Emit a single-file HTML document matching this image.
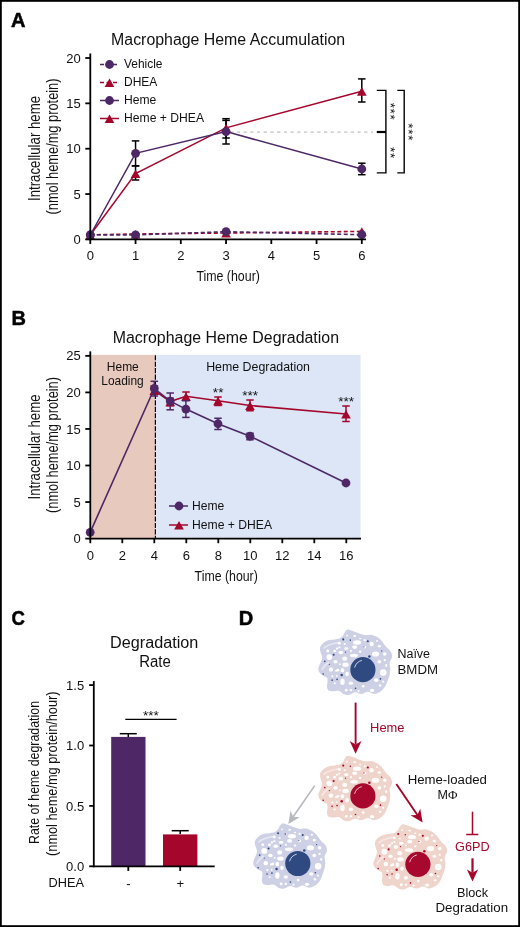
<!DOCTYPE html>
<html lang="en"><head><meta charset="utf-8"><title>Macrophage heme figure</title>
<style>
html,body{margin:0;padding:0;background:#fff}
svg{display:block;will-change:transform}
text{font-family:"Liberation Sans",sans-serif}
</style></head><body>
<svg width="520" height="927" viewBox="0 0 520 927">
<rect x="0" y="0" width="520" height="927" fill="#fff"/>
<g id="panelA">
<text x="11" y="26.8" font-size="20" fill="#000" font-weight="bold" stroke="#000" stroke-width="0.5">A</text>
<text x="111.1" y="45" font-size="15.8" fill="#111" textLength="234" lengthAdjust="spacingAndGlyphs">Macrophage Heme Accumulation</text>
<line x1="230.20" y1="132.10" x2="373.00" y2="132.10" stroke="#c2c2c2" stroke-width="1.2" stroke-dasharray="3.2 3.5"/>
<polyline points="90.30,234.80 135.55,234.00 226.05,233.00 361.80,231.40" fill="none" stroke="#a5062c" stroke-width="1.6" stroke-dasharray="4 2.5"/>
<polygon points="90.30,230.71 95.15,239.41 85.45,239.41" fill="#a5062c"/>
<polygon points="135.55,229.91 140.40,238.61 130.70,238.61" fill="#a5062c"/>
<polygon points="226.05,228.91 230.90,237.61 221.20,237.61" fill="#a5062c"/>
<polygon points="361.80,227.31 366.65,236.01 356.95,236.01" fill="#a5062c"/>
<polyline points="90.30,234.80 135.55,234.90 226.05,231.70 361.80,234.70" fill="none" stroke="#4e2766" stroke-width="1.6" stroke-dasharray="4 2.5"/>
<circle cx="90.30" cy="234.80" r="4.4" fill="#4e2766"/>
<circle cx="135.55" cy="234.90" r="4.4" fill="#4e2766"/>
<circle cx="226.05" cy="231.70" r="4.4" fill="#4e2766"/>
<circle cx="361.80" cy="234.70" r="4.4" fill="#4e2766"/>
<line x1="135.55" y1="166.00" x2="135.55" y2="180.00" stroke="#000" stroke-width="1.5"/>
<line x1="131.80" y1="166.00" x2="139.30" y2="166.00" stroke="#000" stroke-width="1.5"/>
<line x1="131.80" y1="180.00" x2="139.30" y2="180.00" stroke="#000" stroke-width="1.5"/>
<line x1="226.05" y1="120.40" x2="226.05" y2="138.00" stroke="#000" stroke-width="1.5"/>
<line x1="222.30" y1="120.40" x2="229.80" y2="120.40" stroke="#000" stroke-width="1.5"/>
<line x1="222.30" y1="138.00" x2="229.80" y2="138.00" stroke="#000" stroke-width="1.5"/>
<line x1="361.80" y1="78.90" x2="361.80" y2="102.00" stroke="#000" stroke-width="1.5"/>
<line x1="358.05" y1="78.90" x2="365.55" y2="78.90" stroke="#000" stroke-width="1.5"/>
<line x1="358.05" y1="102.00" x2="365.55" y2="102.00" stroke="#000" stroke-width="1.5"/>
<line x1="135.55" y1="140.90" x2="135.55" y2="165.70" stroke="#000" stroke-width="1.5"/>
<line x1="131.80" y1="140.90" x2="139.30" y2="140.90" stroke="#000" stroke-width="1.5"/>
<line x1="131.80" y1="165.70" x2="139.30" y2="165.70" stroke="#000" stroke-width="1.5"/>
<line x1="226.05" y1="118.70" x2="226.05" y2="144.00" stroke="#000" stroke-width="1.5"/>
<line x1="222.30" y1="118.70" x2="229.80" y2="118.70" stroke="#000" stroke-width="1.5"/>
<line x1="222.30" y1="144.00" x2="229.80" y2="144.00" stroke="#000" stroke-width="1.5"/>
<line x1="361.80" y1="163.20" x2="361.80" y2="174.70" stroke="#000" stroke-width="1.5"/>
<line x1="358.05" y1="163.20" x2="365.55" y2="163.20" stroke="#000" stroke-width="1.5"/>
<line x1="358.05" y1="174.70" x2="365.55" y2="174.70" stroke="#000" stroke-width="1.5"/>
<polyline points="90.30,235.00 135.55,173.50 226.05,127.90 361.80,91.20" fill="none" stroke="#a5062c" stroke-width="1.5"/>
<polyline points="90.30,235.00 135.55,153.30 226.05,131.60 361.80,169.00" fill="none" stroke="#4e2766" stroke-width="1.5"/>
<polygon points="135.55,169.41 140.40,178.11 130.70,178.11" fill="#a5062c"/>
<polygon points="226.05,123.81 230.90,132.51 221.20,132.51" fill="#a5062c"/>
<polygon points="361.80,87.11 366.65,95.81 356.95,95.81" fill="#a5062c"/>
<circle cx="90.30" cy="235.00" r="4.4" fill="#4e2766"/>
<circle cx="135.55" cy="153.30" r="4.4" fill="#4e2766"/>
<circle cx="226.05" cy="131.60" r="4.4" fill="#4e2766"/>
<circle cx="361.80" cy="169.00" r="4.4" fill="#4e2766"/>
<line x1="90.30" y1="53.50" x2="90.30" y2="240.30" stroke="#000" stroke-width="1.8"/>
<line x1="89.40" y1="239.40" x2="366.00" y2="239.40" stroke="#000" stroke-width="1.8"/>
<line x1="85.30" y1="239.40" x2="90.30" y2="239.40" stroke="#000" stroke-width="1.8"/>
<text x="80.8" y="244.0" font-size="13" fill="#111" text-anchor="end">0</text>
<line x1="85.30" y1="194.05" x2="90.30" y2="194.05" stroke="#000" stroke-width="1.8"/>
<text x="80.8" y="198.65" font-size="13" fill="#111" text-anchor="end">5</text>
<line x1="85.30" y1="148.70" x2="90.30" y2="148.70" stroke="#000" stroke-width="1.8"/>
<text x="80.8" y="153.29999999999998" font-size="13" fill="#111" text-anchor="end">10</text>
<line x1="85.30" y1="103.35" x2="90.30" y2="103.35" stroke="#000" stroke-width="1.8"/>
<text x="80.8" y="107.94999999999999" font-size="13" fill="#111" text-anchor="end">15</text>
<line x1="85.30" y1="58.00" x2="90.30" y2="58.00" stroke="#000" stroke-width="1.8"/>
<text x="80.8" y="62.6" font-size="13" fill="#111" text-anchor="end">20</text>
<line x1="90.30" y1="239.40" x2="90.30" y2="244.00" stroke="#000" stroke-width="1.8"/>
<text x="90.3" y="259.8" font-size="13" fill="#111" text-anchor="middle">0</text>
<line x1="135.55" y1="239.40" x2="135.55" y2="244.00" stroke="#000" stroke-width="1.8"/>
<text x="135.55" y="259.8" font-size="13" fill="#111" text-anchor="middle">1</text>
<line x1="180.80" y1="239.40" x2="180.80" y2="244.00" stroke="#000" stroke-width="1.8"/>
<text x="180.8" y="259.8" font-size="13" fill="#111" text-anchor="middle">2</text>
<line x1="226.05" y1="239.40" x2="226.05" y2="244.00" stroke="#000" stroke-width="1.8"/>
<text x="226.05" y="259.8" font-size="13" fill="#111" text-anchor="middle">3</text>
<line x1="271.30" y1="239.40" x2="271.30" y2="244.00" stroke="#000" stroke-width="1.8"/>
<text x="271.3" y="259.8" font-size="13" fill="#111" text-anchor="middle">4</text>
<line x1="316.55" y1="239.40" x2="316.55" y2="244.00" stroke="#000" stroke-width="1.8"/>
<text x="316.55" y="259.8" font-size="13" fill="#111" text-anchor="middle">5</text>
<line x1="361.80" y1="239.40" x2="361.80" y2="244.00" stroke="#000" stroke-width="1.8"/>
<text x="361.8" y="259.8" font-size="13" fill="#111" text-anchor="middle">6</text>
<text x="196.4" y="281.1" font-size="15" fill="#111" textLength="63.5" lengthAdjust="spacingAndGlyphs">Time (hour)</text>
<text x="39.5" y="148.5" font-size="15.6" fill="#111" text-anchor="middle" textLength="105" lengthAdjust="spacingAndGlyphs" transform="rotate(-90 39.5 148.5)">Intracellular heme</text>
<text x="57.5" y="146.5" font-size="15.6" fill="#111" text-anchor="middle" textLength="136" lengthAdjust="spacingAndGlyphs" transform="rotate(-90 57.5 146.5)">(nmol heme/mg protein)</text>
<line x1="100.00" y1="64.50" x2="119.00" y2="64.50" stroke="#4e2766" stroke-width="1.5" stroke-dasharray="4 2.5"/>
<circle cx="109.50" cy="64.50" r="4.4" fill="#4e2766"/>
<text x="124" y="68.4" font-size="12.4" fill="#111" textLength="38.5" lengthAdjust="spacingAndGlyphs">Vehicle</text>
<line x1="100.00" y1="82.50" x2="119.00" y2="82.50" stroke="#a5062c" stroke-width="1.5" stroke-dasharray="4 2.5"/>
<polygon points="109.50,78.41 114.35,87.11 104.65,87.11" fill="#a5062c"/>
<text x="124" y="86.4" font-size="12.4" fill="#111" textLength="33.4" lengthAdjust="spacingAndGlyphs">DHEA</text>
<line x1="100.00" y1="100.50" x2="119.00" y2="100.50" stroke="#4e2766" stroke-width="1.5"/>
<circle cx="109.50" cy="100.50" r="4.4" fill="#4e2766"/>
<text x="124" y="104.4" font-size="12.4" fill="#111" textLength="32.3" lengthAdjust="spacingAndGlyphs">Heme</text>
<line x1="100.00" y1="118.50" x2="119.00" y2="118.50" stroke="#a5062c" stroke-width="1.5"/>
<polygon points="109.50,114.41 114.35,123.11 104.65,123.11" fill="#a5062c"/>
<text x="124" y="122.4" font-size="12.4" fill="#111" textLength="80" lengthAdjust="spacingAndGlyphs">Heme + DHEA</text>
<polyline points="376.8,90.4 385.9,90.4 385.9,172.9 376.8,172.9" fill="none" stroke="#000" stroke-width="1.4"/>
<polyline points="397.3,90.4 404.2,90.4 404.2,172.9 397.3,172.9" fill="none" stroke="#000" stroke-width="1.4"/>
<line x1="376.80" y1="132.00" x2="386.00" y2="132.00" stroke="#000" stroke-width="2.2"/>
<text x="392.9" y="118.39999999999999" font-size="13.6" letter-spacing="0.6" text-anchor="middle" fill="#111" transform="rotate(90 392.7 111.3)">***</text>
<text x="392.9" y="159.9" font-size="13.6" letter-spacing="0.6" text-anchor="middle" fill="#111" transform="rotate(90 392.7 152.8)">**</text>
<text x="411.2" y="139.1" font-size="13.6" letter-spacing="0.6" text-anchor="middle" fill="#111" transform="rotate(90 411 132)">***</text>
</g>
<g id="panelB">
<text x="11.6" y="325.1" font-size="20" fill="#000" font-weight="bold" stroke="#000" stroke-width="0.5">B</text>
<text x="112.7" y="343" font-size="15.8" fill="#111" textLength="226.3" lengthAdjust="spacingAndGlyphs">Macrophage Heme Degradation</text>
<rect x="90.7" y="354.9" width="64.3" height="183.70000000000005" fill="#e8c9be"/>
<rect x="155" y="354.9" width="205.5" height="183.70000000000005" fill="#dce6f6"/>
<line x1="155.40" y1="355.20" x2="155.40" y2="538.60" stroke="#000" stroke-width="1.2" stroke-dasharray="5.1 1.35"/>
<text x="122.8" y="370.8" font-size="12.4" fill="#111" text-anchor="middle" textLength="32" lengthAdjust="spacingAndGlyphs">Heme</text>
<text x="122.5" y="385" font-size="12.4" fill="#111" text-anchor="middle" textLength="42.5" lengthAdjust="spacingAndGlyphs">Loading</text>
<text x="258.1" y="370.6" font-size="12.4" fill="#111" text-anchor="middle" textLength="103.8" lengthAdjust="spacingAndGlyphs">Heme Degradation</text>
<line x1="154.30" y1="386.00" x2="154.30" y2="394.00" stroke="#a5062c" stroke-width="1.5"/>
<line x1="150.55" y1="386.00" x2="158.05" y2="386.00" stroke="#a5062c" stroke-width="1.5"/>
<line x1="150.55" y1="394.00" x2="158.05" y2="394.00" stroke="#a5062c" stroke-width="1.5"/>
<line x1="170.20" y1="398.20" x2="170.20" y2="405.80" stroke="#a5062c" stroke-width="1.5"/>
<line x1="166.45" y1="398.20" x2="173.95" y2="398.20" stroke="#a5062c" stroke-width="1.5"/>
<line x1="166.45" y1="405.80" x2="173.95" y2="405.80" stroke="#a5062c" stroke-width="1.5"/>
<line x1="186.00" y1="392.00" x2="186.00" y2="400.00" stroke="#a5062c" stroke-width="1.5"/>
<line x1="182.25" y1="392.00" x2="189.75" y2="392.00" stroke="#a5062c" stroke-width="1.5"/>
<line x1="182.25" y1="400.00" x2="189.75" y2="400.00" stroke="#a5062c" stroke-width="1.5"/>
<line x1="218.00" y1="397.00" x2="218.00" y2="405.50" stroke="#a5062c" stroke-width="1.5"/>
<line x1="214.25" y1="397.00" x2="221.75" y2="397.00" stroke="#a5062c" stroke-width="1.5"/>
<line x1="214.25" y1="405.50" x2="221.75" y2="405.50" stroke="#a5062c" stroke-width="1.5"/>
<line x1="250.00" y1="400.00" x2="250.00" y2="410.75" stroke="#a5062c" stroke-width="1.5"/>
<line x1="246.25" y1="400.00" x2="253.75" y2="400.00" stroke="#a5062c" stroke-width="1.5"/>
<line x1="246.25" y1="410.75" x2="253.75" y2="410.75" stroke="#a5062c" stroke-width="1.5"/>
<line x1="346.00" y1="406.00" x2="346.00" y2="421.50" stroke="#a5062c" stroke-width="1.5"/>
<line x1="342.25" y1="406.00" x2="349.75" y2="406.00" stroke="#a5062c" stroke-width="1.5"/>
<line x1="342.25" y1="421.50" x2="349.75" y2="421.50" stroke="#a5062c" stroke-width="1.5"/>
<polyline points="154.30,390.30 170.20,401.60 186.00,396.30 218.00,400.75 250.00,405.50 346.00,414.00" fill="none" stroke="#a5062c" stroke-width="1.6"/>
<polygon points="154.30,386.21 159.15,394.91 149.45,394.91" fill="#a5062c"/>
<polygon points="170.20,397.51 175.05,406.21 165.35,406.21" fill="#a5062c"/>
<polygon points="186.00,392.21 190.85,400.91 181.15,400.91" fill="#a5062c"/>
<polygon points="218.00,396.66 222.85,405.36 213.15,405.36" fill="#a5062c"/>
<polygon points="250.00,401.41 254.85,410.11 245.15,410.11" fill="#a5062c"/>
<polygon points="346.00,409.91 350.85,418.61 341.15,418.61" fill="#a5062c"/>
<line x1="154.30" y1="381.30" x2="154.30" y2="396.00" stroke="#4e2766" stroke-width="1.5"/>
<line x1="150.55" y1="381.30" x2="158.05" y2="381.30" stroke="#4e2766" stroke-width="1.5"/>
<line x1="150.55" y1="396.00" x2="158.05" y2="396.00" stroke="#4e2766" stroke-width="1.5"/>
<line x1="170.20" y1="393.00" x2="170.20" y2="409.80" stroke="#4e2766" stroke-width="1.5"/>
<line x1="166.45" y1="393.00" x2="173.95" y2="393.00" stroke="#4e2766" stroke-width="1.5"/>
<line x1="166.45" y1="409.80" x2="173.95" y2="409.80" stroke="#4e2766" stroke-width="1.5"/>
<line x1="185.90" y1="400.75" x2="185.90" y2="417.40" stroke="#4e2766" stroke-width="1.5"/>
<line x1="182.15" y1="400.75" x2="189.65" y2="400.75" stroke="#4e2766" stroke-width="1.5"/>
<line x1="182.15" y1="417.40" x2="189.65" y2="417.40" stroke="#4e2766" stroke-width="1.5"/>
<line x1="218.00" y1="418.25" x2="218.00" y2="429.50" stroke="#4e2766" stroke-width="1.5"/>
<line x1="214.25" y1="418.25" x2="221.75" y2="418.25" stroke="#4e2766" stroke-width="1.5"/>
<line x1="214.25" y1="429.50" x2="221.75" y2="429.50" stroke="#4e2766" stroke-width="1.5"/>
<line x1="250.00" y1="433.25" x2="250.00" y2="439.75" stroke="#4e2766" stroke-width="1.5"/>
<line x1="246.25" y1="433.25" x2="253.75" y2="433.25" stroke="#4e2766" stroke-width="1.5"/>
<line x1="246.25" y1="439.75" x2="253.75" y2="439.75" stroke="#4e2766" stroke-width="1.5"/>
<polyline points="90.20,532.30 154.30,388.40 170.20,401.10 185.90,409.10 218.00,423.75 250.00,436.25 346.00,483.00" fill="none" stroke="#4e2766" stroke-width="1.6"/>
<circle cx="90.20" cy="532.30" r="4.4" fill="#4e2766"/>
<circle cx="154.30" cy="388.40" r="4.4" fill="#4e2766"/>
<circle cx="170.20" cy="401.10" r="4.4" fill="#4e2766"/>
<circle cx="185.90" cy="409.10" r="4.4" fill="#4e2766"/>
<circle cx="218.00" cy="423.75" r="4.4" fill="#4e2766"/>
<circle cx="250.00" cy="436.25" r="4.4" fill="#4e2766"/>
<circle cx="346.00" cy="483.00" r="4.4" fill="#4e2766"/>
<text x="218.2" y="396.6" font-size="13.6" letter-spacing="0.05" text-anchor="middle" fill="#111">**</text>
<text x="250.2" y="400.40000000000003" font-size="13.6" letter-spacing="0.05" text-anchor="middle" fill="#111">***</text>
<text x="346.2" y="406.1" font-size="13.6" letter-spacing="0.05" text-anchor="middle" fill="#111">***</text>
<line x1="90.30" y1="351.35" x2="90.30" y2="539.50" stroke="#000" stroke-width="1.8"/>
<line x1="89.40" y1="538.60" x2="361.00" y2="538.60" stroke="#000" stroke-width="1.8"/>
<line x1="85.30" y1="538.60" x2="90.30" y2="538.60" stroke="#000" stroke-width="1.8"/>
<text x="80.8" y="543.2" font-size="13" fill="#111" text-anchor="end">0</text>
<line x1="85.30" y1="502.05" x2="90.30" y2="502.05" stroke="#000" stroke-width="1.8"/>
<text x="80.8" y="506.65000000000003" font-size="13" fill="#111" text-anchor="end">5</text>
<line x1="85.30" y1="465.50" x2="90.30" y2="465.50" stroke="#000" stroke-width="1.8"/>
<text x="80.8" y="470.1" font-size="13" fill="#111" text-anchor="end">10</text>
<line x1="85.30" y1="428.95" x2="90.30" y2="428.95" stroke="#000" stroke-width="1.8"/>
<text x="80.8" y="433.55000000000007" font-size="13" fill="#111" text-anchor="end">15</text>
<line x1="85.30" y1="392.40" x2="90.30" y2="392.40" stroke="#000" stroke-width="1.8"/>
<text x="80.8" y="397.00000000000006" font-size="13" fill="#111" text-anchor="end">20</text>
<line x1="85.30" y1="355.85" x2="90.30" y2="355.85" stroke="#000" stroke-width="1.8"/>
<text x="80.8" y="360.45000000000005" font-size="13" fill="#111" text-anchor="end">25</text>
<line x1="90.30" y1="538.60" x2="90.30" y2="543.20" stroke="#000" stroke-width="1.8"/>
<text x="90.3" y="559.6" font-size="13" fill="#111" text-anchor="middle">0</text>
<line x1="122.30" y1="538.60" x2="122.30" y2="543.20" stroke="#000" stroke-width="1.8"/>
<text x="122.3" y="559.6" font-size="13" fill="#111" text-anchor="middle">2</text>
<line x1="154.30" y1="538.60" x2="154.30" y2="543.20" stroke="#000" stroke-width="1.8"/>
<text x="154.3" y="559.6" font-size="13" fill="#111" text-anchor="middle">4</text>
<line x1="186.30" y1="538.60" x2="186.30" y2="543.20" stroke="#000" stroke-width="1.8"/>
<text x="186.3" y="559.6" font-size="13" fill="#111" text-anchor="middle">6</text>
<line x1="218.30" y1="538.60" x2="218.30" y2="543.20" stroke="#000" stroke-width="1.8"/>
<text x="218.3" y="559.6" font-size="13" fill="#111" text-anchor="middle">8</text>
<line x1="250.30" y1="538.60" x2="250.30" y2="543.20" stroke="#000" stroke-width="1.8"/>
<text x="250.3" y="559.6" font-size="13" fill="#111" text-anchor="middle">10</text>
<line x1="282.30" y1="538.60" x2="282.30" y2="543.20" stroke="#000" stroke-width="1.8"/>
<text x="282.3" y="559.6" font-size="13" fill="#111" text-anchor="middle">12</text>
<line x1="314.30" y1="538.60" x2="314.30" y2="543.20" stroke="#000" stroke-width="1.8"/>
<text x="314.3" y="559.6" font-size="13" fill="#111" text-anchor="middle">14</text>
<line x1="346.30" y1="538.60" x2="346.30" y2="543.20" stroke="#000" stroke-width="1.8"/>
<text x="346.3" y="559.6" font-size="13" fill="#111" text-anchor="middle">16</text>
<text x="194.6" y="580.5" font-size="15" fill="#111" textLength="63.2" lengthAdjust="spacingAndGlyphs">Time (hour)</text>
<text x="39.5" y="447" font-size="15.6" fill="#111" text-anchor="middle" textLength="105" lengthAdjust="spacingAndGlyphs" transform="rotate(-90 39.5 447)">Intracellular heme</text>
<text x="57.5" y="445" font-size="15.6" fill="#111" text-anchor="middle" textLength="136" lengthAdjust="spacingAndGlyphs" transform="rotate(-90 57.5 445)">(nmol heme/mg protein)</text>
<line x1="169.00" y1="506.00" x2="188.00" y2="506.00" stroke="#4e2766" stroke-width="1.5"/>
<circle cx="179.00" cy="506.00" r="4.4" fill="#4e2766"/>
<text x="192" y="509.9" font-size="12.4" fill="#111" textLength="32.3" lengthAdjust="spacingAndGlyphs">Heme</text>
<line x1="169.00" y1="525.00" x2="188.00" y2="525.00" stroke="#a5062c" stroke-width="1.5"/>
<polygon points="179.00,520.91 183.85,529.61 174.15,529.61" fill="#a5062c"/>
<text x="192" y="528.9" font-size="12.4" fill="#111" textLength="80" lengthAdjust="spacingAndGlyphs">Heme + DHEA</text>
</g>
<g id="panelC">
<text x="11.6" y="625" font-size="20" fill="#000" textLength="13.4" lengthAdjust="spacingAndGlyphs" font-weight="bold" stroke="#000" stroke-width="0.5">C</text>
<text x="238.8" y="625" font-size="20" fill="#000" font-weight="bold" stroke="#000" stroke-width="0.5">D</text>
<text x="154.2" y="647.5" font-size="15.8" fill="#111" text-anchor="middle" textLength="88.3" lengthAdjust="spacingAndGlyphs">Degradation</text>
<text x="155" y="666.5" font-size="15.8" fill="#111" text-anchor="middle" textLength="31.6" lengthAdjust="spacingAndGlyphs">Rate</text>
<rect x="111.2" y="736.9" width="34.3" height="129.39999999999998" fill="#4e2766"/>
<rect x="163" y="834.4" width="34.4" height="31.899999999999977" fill="#a5062c"/>
<line x1="128.30" y1="733.70" x2="128.30" y2="737.00" stroke="#000" stroke-width="1.5"/>
<line x1="119.80" y1="733.70" x2="136.80" y2="733.70" stroke="#000" stroke-width="1.5"/>
<line x1="180.20" y1="830.70" x2="180.20" y2="834.00" stroke="#000" stroke-width="1.5"/>
<line x1="171.70" y1="830.70" x2="188.70" y2="830.70" stroke="#000" stroke-width="1.5"/>
<line x1="125.30" y1="719.30" x2="176.60" y2="719.30" stroke="#000" stroke-width="1.3"/>
<text x="150.89999999999998" y="720.1" font-size="13.6" letter-spacing="0.05" text-anchor="middle" fill="#111">***</text>
<line x1="93.80" y1="681.10" x2="93.80" y2="867.20" stroke="#000" stroke-width="1.8"/>
<line x1="92.90" y1="866.30" x2="214.70" y2="866.30" stroke="#000" stroke-width="1.8"/>
<line x1="89.20" y1="866.30" x2="93.80" y2="866.30" stroke="#000" stroke-width="1.8"/>
<text x="84.2" y="870.9" font-size="13" fill="#111" text-anchor="end">0.0</text>
<line x1="89.20" y1="805.90" x2="93.80" y2="805.90" stroke="#000" stroke-width="1.8"/>
<text x="84.2" y="810.5" font-size="13" fill="#111" text-anchor="end">0.5</text>
<line x1="89.20" y1="745.50" x2="93.80" y2="745.50" stroke="#000" stroke-width="1.8"/>
<text x="84.2" y="750.1" font-size="13" fill="#111" text-anchor="end">1.0</text>
<line x1="89.20" y1="685.10" x2="93.80" y2="685.10" stroke="#000" stroke-width="1.8"/>
<text x="84.2" y="689.6999999999999" font-size="13" fill="#111" text-anchor="end">1.5</text>
<line x1="128.30" y1="866.30" x2="128.30" y2="870.90" stroke="#000" stroke-width="1.8"/>
<line x1="180.20" y1="866.30" x2="180.20" y2="870.90" stroke="#000" stroke-width="1.8"/>
<text x="128.3" y="888" font-size="13" fill="#111" text-anchor="middle">-</text>
<text x="180.2" y="888" font-size="13" fill="#111" text-anchor="middle">+</text>
<text x="48.5" y="887" font-size="13" fill="#111" textLength="35.5" lengthAdjust="spacingAndGlyphs">DHEA</text>
<text x="39.3" y="772.5" font-size="15.2" fill="#111" text-anchor="middle" textLength="143" lengthAdjust="spacingAndGlyphs" transform="rotate(-90 39.3 772.5)">Rate of heme degradation</text>
<text x="57.3" y="773.7" font-size="15.2" fill="#111" text-anchor="middle" textLength="164.5" lengthAdjust="spacingAndGlyphs" transform="rotate(-90 57.3 773.7)">(nmol heme/mg protein/hour)</text>
</g>
<g id="panelD">
<g transform="translate(362.9,669.7)">
<path d="M-15.20,-40.10C-13.92,-40.32 -12.22,-39.40 -10.40,-38.80C-8.58,-38.20 -6.35,-37.20 -4.30,-36.50C-2.25,-35.80 -0.15,-34.87 1.90,-34.60C3.95,-34.33 5.95,-35.23 8.00,-34.90C10.05,-34.57 12.40,-33.62 14.20,-32.60C16.00,-31.58 17.27,-30.47 18.80,-28.80C20.33,-27.13 21.87,-24.40 23.40,-22.60C24.93,-20.80 27.05,-19.67 28.00,-18.00C28.95,-16.33 29.30,-14.40 29.10,-12.60C28.90,-10.80 27.08,-9.12 26.80,-7.20C26.52,-5.28 27.40,-3.15 27.40,-1.10C27.40,0.95 27.27,3.05 26.80,5.10C26.33,7.15 25.42,9.15 24.60,11.20C23.78,13.25 23.12,15.60 21.90,17.40C20.68,19.20 19.10,20.85 17.30,22.00C15.50,23.15 13.17,24.28 11.10,24.30C9.03,24.32 6.95,22.10 4.90,22.10C2.85,22.10 0.90,24.23 -1.20,24.30C-3.30,24.37 -5.65,22.37 -7.70,22.50C-9.75,22.63 -11.73,24.72 -13.50,25.10C-15.27,25.48 -17.05,25.15 -18.30,24.80C-19.55,24.45 -19.98,23.62 -21.00,23.00C-22.02,22.38 -22.95,21.33 -24.40,21.10C-25.85,20.87 -28.02,21.68 -29.70,21.60C-31.38,21.52 -33.47,21.40 -34.50,20.60C-35.53,19.80 -35.75,18.23 -35.90,16.80C-36.05,15.37 -35.40,13.45 -35.40,12.00C-35.40,10.55 -35.25,9.07 -35.90,8.10C-36.55,7.13 -38.10,7.00 -39.30,6.20C-40.50,5.40 -42.22,4.42 -43.10,3.30C-43.98,2.18 -44.52,0.78 -44.60,-0.50C-44.68,-1.78 -44.08,-3.03 -43.60,-4.40C-43.12,-5.77 -42.18,-7.35 -41.70,-8.70C-41.22,-10.05 -40.62,-11.13 -40.70,-12.50C-40.78,-13.87 -41.83,-15.30 -42.20,-16.90C-42.57,-18.50 -43.30,-20.50 -42.90,-22.10C-42.50,-23.70 -41.20,-25.28 -39.80,-26.50C-38.40,-27.72 -36.35,-28.77 -34.50,-29.40C-32.65,-30.03 -30.55,-29.98 -28.70,-30.30C-26.85,-30.62 -24.83,-30.73 -23.40,-31.30C-21.97,-31.87 -20.98,-32.67 -20.10,-33.70C-19.22,-34.73 -18.92,-36.43 -18.10,-37.50C-17.28,-38.57 -16.48,-39.88 -15.20,-40.10Z" fill="#ced1e6"/>
<path d="M-38.77,-21.69 Q-35.08,-25.38 -24.92,-26.92" fill="none" stroke="#e6e8f3" stroke-width="1.7" stroke-linecap="round"/>
<path d="M-40.77,-0.46 Q-39.38,-3.85 -34.46,-7.23" fill="none" stroke="#e6e8f3" stroke-width="1.7" stroke-linecap="round"/>
<ellipse cx="-8.15" cy="-33.69" rx="1.45" ry="0.91" fill="#fff"/>
<ellipse cx="-15.85" cy="-34.15" rx="0.91" ry="0.91" fill="#fff"/>
<ellipse cx="-5.85" cy="-27.23" rx="3.99" ry="2.18" fill="#fff"/>
<ellipse cx="8.77" cy="-25.69" rx="2.18" ry="2.18" fill="#fff"/>
<ellipse cx="1.85" cy="-29.54" rx="1.09" ry="1.09" fill="#fff"/>
<ellipse cx="16.46" cy="-23.38" rx="1.63" ry="1.27" fill="#fff"/>
<ellipse cx="12.62" cy="-15.69" rx="3.63" ry="2.54" fill="#fff"/>
<ellipse cx="21.85" cy="-15.69" rx="1.82" ry="1.82" fill="#fff"/>
<ellipse cx="1.85" cy="-22.62" rx="1.45" ry="1.45" fill="#fff"/>
<ellipse cx="-8.15" cy="-22.62" rx="2.54" ry="1.82" fill="#fff"/>
<ellipse cx="-8.92" cy="-14.15" rx="3.99" ry="1.82" fill="#fff"/>
<ellipse cx="-16.62" cy="-21.08" rx="2.18" ry="1.45" fill="#fff"/>
<ellipse cx="-12.00" cy="-18.77" rx="1.09" ry="1.09" fill="#fff"/>
<ellipse cx="-22.00" cy="-17.23" rx="2.36" ry="1.82" fill="#fff"/>
<ellipse cx="-33.54" cy="-12.62" rx="2.90" ry="2.90" fill="#fff"/>
<ellipse cx="-27.38" cy="-8.00" rx="2.18" ry="1.82" fill="#fff"/>
<ellipse cx="-18.15" cy="-11.08" rx="2.54" ry="2.18" fill="#fff"/>
<ellipse cx="-17.38" cy="-4.92" rx="3.27" ry="2.18" fill="#fff"/>
<ellipse cx="-32.00" cy="-0.31" rx="2.18" ry="2.18" fill="#fff"/>
<ellipse cx="-25.08" cy="0.46" rx="1.45" ry="1.45" fill="#fff"/>
<ellipse cx="-20.46" cy="0.46" rx="1.82" ry="2.18" fill="#fff"/>
<ellipse cx="-15.85" cy="4.31" rx="1.82" ry="2.18" fill="#fff"/>
<ellipse cx="-20.46" cy="12.00" rx="2.18" ry="3.27" fill="#fff"/>
<ellipse cx="-12.00" cy="13.54" rx="2.18" ry="1.82" fill="#fff"/>
<ellipse cx="-16.62" cy="20.46" rx="1.45" ry="1.45" fill="#fff"/>
<ellipse cx="20.31" cy="2.77" rx="3.27" ry="3.27" fill="#fff"/>
<ellipse cx="16.46" cy="-8.00" rx="1.82" ry="1.82" fill="#fff"/>
<ellipse cx="13.38" cy="10.46" rx="2.18" ry="1.82" fill="#fff"/>
<ellipse cx="9.23" cy="20.77" rx="2.18" ry="1.63" fill="#fff"/>
<ellipse cx="0.31" cy="16.62" rx="1.27" ry="1.27" fill="#fff"/>
<ellipse cx="-35.08" cy="-18.77" rx="1.45" ry="1.45" fill="#fff"/>
<ellipse cx="-23.54" cy="-26.46" rx="1.45" ry="1.45" fill="#fff"/>
<ellipse cx="20.31" cy="12.00" rx="1.09" ry="1.09" fill="#fff"/>
<ellipse cx="21.85" cy="-9.54" rx="1.09" ry="1.09" fill="#fff"/>
<ellipse cx="-12.00" cy="-29.54" rx="0.91" ry="0.91" fill="#fff"/>
<ellipse cx="-25.85" cy="-21.08" rx="1.09" ry="1.09" fill="#fff"/>
<ellipse cx="-2.77" cy="-18.00" rx="1.27" ry="1.09" fill="#fff"/>
<ellipse cx="-28.31" cy="-18.77" rx="1.45" ry="1.27" fill="#fff"/>
<ellipse cx="-23.54" cy="-22.31" rx="1.09" ry="0.91" fill="#fff"/>
<ellipse cx="-23.08" cy="-5.54" rx="0.91" ry="0.91" fill="#fff"/>
<ellipse cx="-26.77" cy="1.08" rx="1.09" ry="1.09" fill="#fff"/>
<ellipse cx="-26.15" cy="6.15" rx="0.91" ry="0.91" fill="#fff"/>
<ellipse cx="-30.46" cy="6.62" rx="1.09" ry="1.09" fill="#fff"/>
<ellipse cx="-12.00" cy="20.46" rx="1.27" ry="1.09" fill="#fff"/>
<ellipse cx="-4.31" cy="21.23" rx="1.09" ry="0.91" fill="#fff"/>
<ellipse cx="17.23" cy="15.85" rx="1.27" ry="1.27" fill="#fff"/>
<ellipse cx="23.38" cy="-4.15" rx="1.09" ry="1.45" fill="#fff"/>
<ellipse cx="-18.15" cy="-25.69" rx="1.09" ry="0.91" fill="#fff"/>
<ellipse cx="-28.15" cy="13.54" rx="1.09" ry="0.91" fill="#fff"/>
<ellipse cx="14.15" cy="-28.77" rx="1.09" ry="0.91" fill="#fff"/>
<ellipse cx="-2.77" cy="-31.08" rx="1.09" ry="0.73" fill="#fff"/>
<circle cx="-19.69" cy="-30.31" r="1.04" fill="#2e4a80"/>
<circle cx="-12.46" cy="-29.54" r="0.83" fill="#2e4a80"/>
<circle cx="4.92" cy="-28.46" r="1.04" fill="#2e4a80"/>
<circle cx="1.08" cy="-22.92" r="0.62" fill="#2e4a80"/>
<circle cx="6.46" cy="-13.08" r="1.25" fill="#2e4a80"/>
<circle cx="-29.23" cy="-14.92" r="1.04" fill="#2e4a80"/>
<circle cx="-38.15" cy="-8.31" r="0.83" fill="#2e4a80"/>
<circle cx="-21.23" cy="5.38" r="1.25" fill="#2e4a80"/>
<circle cx="-25.85" cy="9.69" r="0.83" fill="#2e4a80"/>
<circle cx="-30.77" cy="10.46" r="0.83" fill="#2e4a80"/>
<circle cx="-39.69" cy="4.31" r="0.83" fill="#2e4a80"/>
<circle cx="-7.38" cy="18.62" r="0.83" fill="#2e4a80"/>
<circle cx="17.54" cy="9.23" r="0.83" fill="#2e4a80"/>
<circle cx="-17.38" cy="-17.69" r="0.62" fill="#2e4a80"/>
<circle cx="18.77" cy="-18.77" r="0.62" fill="#2e4a80"/>
<circle cx="-33.54" cy="-5.38" r="0.62" fill="#2e4a80"/>
<circle cx="0" cy="0" r="12.6" fill="#2e4a80"/>
<path d="M-8.2,-2.5 Q-6.5,-8 -1.5,-9.2" fill="none" stroke="#fff" stroke-opacity=".75" stroke-width="1" stroke-linecap="round"/>
</g>
<g transform="translate(362.9,795.9)">
<path d="M-15.20,-40.10C-13.92,-40.32 -12.22,-39.40 -10.40,-38.80C-8.58,-38.20 -6.35,-37.20 -4.30,-36.50C-2.25,-35.80 -0.15,-34.87 1.90,-34.60C3.95,-34.33 5.95,-35.23 8.00,-34.90C10.05,-34.57 12.40,-33.62 14.20,-32.60C16.00,-31.58 17.27,-30.47 18.80,-28.80C20.33,-27.13 21.87,-24.40 23.40,-22.60C24.93,-20.80 27.05,-19.67 28.00,-18.00C28.95,-16.33 29.30,-14.40 29.10,-12.60C28.90,-10.80 27.08,-9.12 26.80,-7.20C26.52,-5.28 27.40,-3.15 27.40,-1.10C27.40,0.95 27.27,3.05 26.80,5.10C26.33,7.15 25.42,9.15 24.60,11.20C23.78,13.25 23.12,15.60 21.90,17.40C20.68,19.20 19.10,20.85 17.30,22.00C15.50,23.15 13.17,24.28 11.10,24.30C9.03,24.32 6.95,22.10 4.90,22.10C2.85,22.10 0.90,24.23 -1.20,24.30C-3.30,24.37 -5.65,22.37 -7.70,22.50C-9.75,22.63 -11.73,24.72 -13.50,25.10C-15.27,25.48 -17.05,25.15 -18.30,24.80C-19.55,24.45 -19.98,23.62 -21.00,23.00C-22.02,22.38 -22.95,21.33 -24.40,21.10C-25.85,20.87 -28.02,21.68 -29.70,21.60C-31.38,21.52 -33.47,21.40 -34.50,20.60C-35.53,19.80 -35.75,18.23 -35.90,16.80C-36.05,15.37 -35.40,13.45 -35.40,12.00C-35.40,10.55 -35.25,9.07 -35.90,8.10C-36.55,7.13 -38.10,7.00 -39.30,6.20C-40.50,5.40 -42.22,4.42 -43.10,3.30C-43.98,2.18 -44.52,0.78 -44.60,-0.50C-44.68,-1.78 -44.08,-3.03 -43.60,-4.40C-43.12,-5.77 -42.18,-7.35 -41.70,-8.70C-41.22,-10.05 -40.62,-11.13 -40.70,-12.50C-40.78,-13.87 -41.83,-15.30 -42.20,-16.90C-42.57,-18.50 -43.30,-20.50 -42.90,-22.10C-42.50,-23.70 -41.20,-25.28 -39.80,-26.50C-38.40,-27.72 -36.35,-28.77 -34.50,-29.40C-32.65,-30.03 -30.55,-29.98 -28.70,-30.30C-26.85,-30.62 -24.83,-30.73 -23.40,-31.30C-21.97,-31.87 -20.98,-32.67 -20.10,-33.70C-19.22,-34.73 -18.92,-36.43 -18.10,-37.50C-17.28,-38.57 -16.48,-39.88 -15.20,-40.10Z" fill="#efd4cb"/>
<path d="M-38.77,-21.69 Q-35.08,-25.38 -24.92,-26.92" fill="none" stroke="#f7e8e3" stroke-width="1.7" stroke-linecap="round"/>
<path d="M-40.77,-0.46 Q-39.38,-3.85 -34.46,-7.23" fill="none" stroke="#f7e8e3" stroke-width="1.7" stroke-linecap="round"/>
<ellipse cx="-8.15" cy="-33.69" rx="1.45" ry="0.91" fill="#fff"/>
<ellipse cx="-15.85" cy="-34.15" rx="0.91" ry="0.91" fill="#fff"/>
<ellipse cx="-5.85" cy="-27.23" rx="3.99" ry="2.18" fill="#fff"/>
<ellipse cx="8.77" cy="-25.69" rx="2.18" ry="2.18" fill="#fff"/>
<ellipse cx="1.85" cy="-29.54" rx="1.09" ry="1.09" fill="#fff"/>
<ellipse cx="16.46" cy="-23.38" rx="1.63" ry="1.27" fill="#fff"/>
<ellipse cx="12.62" cy="-15.69" rx="3.63" ry="2.54" fill="#fff"/>
<ellipse cx="21.85" cy="-15.69" rx="1.82" ry="1.82" fill="#fff"/>
<ellipse cx="1.85" cy="-22.62" rx="1.45" ry="1.45" fill="#fff"/>
<ellipse cx="-8.15" cy="-22.62" rx="2.54" ry="1.82" fill="#fff"/>
<ellipse cx="-8.92" cy="-14.15" rx="3.99" ry="1.82" fill="#fff"/>
<ellipse cx="-16.62" cy="-21.08" rx="2.18" ry="1.45" fill="#fff"/>
<ellipse cx="-12.00" cy="-18.77" rx="1.09" ry="1.09" fill="#fff"/>
<ellipse cx="-22.00" cy="-17.23" rx="2.36" ry="1.82" fill="#fff"/>
<ellipse cx="-33.54" cy="-12.62" rx="2.90" ry="2.90" fill="#fff"/>
<ellipse cx="-27.38" cy="-8.00" rx="2.18" ry="1.82" fill="#fff"/>
<ellipse cx="-18.15" cy="-11.08" rx="2.54" ry="2.18" fill="#fff"/>
<ellipse cx="-17.38" cy="-4.92" rx="3.27" ry="2.18" fill="#fff"/>
<ellipse cx="-32.00" cy="-0.31" rx="2.18" ry="2.18" fill="#fff"/>
<ellipse cx="-25.08" cy="0.46" rx="1.45" ry="1.45" fill="#fff"/>
<ellipse cx="-20.46" cy="0.46" rx="1.82" ry="2.18" fill="#fff"/>
<ellipse cx="-15.85" cy="4.31" rx="1.82" ry="2.18" fill="#fff"/>
<ellipse cx="-20.46" cy="12.00" rx="2.18" ry="3.27" fill="#fff"/>
<ellipse cx="-12.00" cy="13.54" rx="2.18" ry="1.82" fill="#fff"/>
<ellipse cx="-16.62" cy="20.46" rx="1.45" ry="1.45" fill="#fff"/>
<ellipse cx="20.31" cy="2.77" rx="3.27" ry="3.27" fill="#fff"/>
<ellipse cx="16.46" cy="-8.00" rx="1.82" ry="1.82" fill="#fff"/>
<ellipse cx="13.38" cy="10.46" rx="2.18" ry="1.82" fill="#fff"/>
<ellipse cx="9.23" cy="20.77" rx="2.18" ry="1.63" fill="#fff"/>
<ellipse cx="0.31" cy="16.62" rx="1.27" ry="1.27" fill="#fff"/>
<ellipse cx="-35.08" cy="-18.77" rx="1.45" ry="1.45" fill="#fff"/>
<ellipse cx="-23.54" cy="-26.46" rx="1.45" ry="1.45" fill="#fff"/>
<ellipse cx="20.31" cy="12.00" rx="1.09" ry="1.09" fill="#fff"/>
<ellipse cx="21.85" cy="-9.54" rx="1.09" ry="1.09" fill="#fff"/>
<ellipse cx="-12.00" cy="-29.54" rx="0.91" ry="0.91" fill="#fff"/>
<ellipse cx="-25.85" cy="-21.08" rx="1.09" ry="1.09" fill="#fff"/>
<ellipse cx="-2.77" cy="-18.00" rx="1.27" ry="1.09" fill="#fff"/>
<ellipse cx="-28.31" cy="-18.77" rx="1.45" ry="1.27" fill="#fff"/>
<ellipse cx="-23.54" cy="-22.31" rx="1.09" ry="0.91" fill="#fff"/>
<ellipse cx="-23.08" cy="-5.54" rx="0.91" ry="0.91" fill="#fff"/>
<ellipse cx="-26.77" cy="1.08" rx="1.09" ry="1.09" fill="#fff"/>
<ellipse cx="-26.15" cy="6.15" rx="0.91" ry="0.91" fill="#fff"/>
<ellipse cx="-30.46" cy="6.62" rx="1.09" ry="1.09" fill="#fff"/>
<ellipse cx="-12.00" cy="20.46" rx="1.27" ry="1.09" fill="#fff"/>
<ellipse cx="-4.31" cy="21.23" rx="1.09" ry="0.91" fill="#fff"/>
<ellipse cx="17.23" cy="15.85" rx="1.27" ry="1.27" fill="#fff"/>
<ellipse cx="23.38" cy="-4.15" rx="1.09" ry="1.45" fill="#fff"/>
<ellipse cx="-18.15" cy="-25.69" rx="1.09" ry="0.91" fill="#fff"/>
<ellipse cx="-28.15" cy="13.54" rx="1.09" ry="0.91" fill="#fff"/>
<ellipse cx="14.15" cy="-28.77" rx="1.09" ry="0.91" fill="#fff"/>
<ellipse cx="-2.77" cy="-31.08" rx="1.09" ry="0.73" fill="#fff"/>
<circle cx="-19.69" cy="-30.31" r="1.04" fill="#a8082e"/>
<circle cx="-12.46" cy="-29.54" r="0.83" fill="#a8082e"/>
<circle cx="4.92" cy="-28.46" r="1.04" fill="#a8082e"/>
<circle cx="1.08" cy="-22.92" r="0.62" fill="#a8082e"/>
<circle cx="6.46" cy="-13.08" r="1.25" fill="#a8082e"/>
<circle cx="-29.23" cy="-14.92" r="1.04" fill="#a8082e"/>
<circle cx="-38.15" cy="-8.31" r="0.83" fill="#a8082e"/>
<circle cx="-21.23" cy="5.38" r="1.25" fill="#a8082e"/>
<circle cx="-25.85" cy="9.69" r="0.83" fill="#a8082e"/>
<circle cx="-30.77" cy="10.46" r="0.83" fill="#a8082e"/>
<circle cx="-39.69" cy="4.31" r="0.83" fill="#a8082e"/>
<circle cx="-7.38" cy="18.62" r="0.83" fill="#a8082e"/>
<circle cx="17.54" cy="9.23" r="0.83" fill="#a8082e"/>
<circle cx="-17.38" cy="-17.69" r="0.62" fill="#a8082e"/>
<circle cx="18.77" cy="-18.77" r="0.62" fill="#a8082e"/>
<circle cx="-33.54" cy="-5.38" r="0.62" fill="#a8082e"/>
<circle cx="0" cy="0" r="12.6" fill="#a8082e"/>
<path d="M-8.2,-2.5 Q-6.5,-8 -1.5,-9.2" fill="none" stroke="#fff" stroke-opacity=".75" stroke-width="1" stroke-linecap="round"/>
</g>
<g transform="translate(297.8,863.5)">
<path d="M-15.20,-40.10C-13.92,-40.32 -12.22,-39.40 -10.40,-38.80C-8.58,-38.20 -6.35,-37.20 -4.30,-36.50C-2.25,-35.80 -0.15,-34.87 1.90,-34.60C3.95,-34.33 5.95,-35.23 8.00,-34.90C10.05,-34.57 12.40,-33.62 14.20,-32.60C16.00,-31.58 17.27,-30.47 18.80,-28.80C20.33,-27.13 21.87,-24.40 23.40,-22.60C24.93,-20.80 27.05,-19.67 28.00,-18.00C28.95,-16.33 29.30,-14.40 29.10,-12.60C28.90,-10.80 27.08,-9.12 26.80,-7.20C26.52,-5.28 27.40,-3.15 27.40,-1.10C27.40,0.95 27.27,3.05 26.80,5.10C26.33,7.15 25.42,9.15 24.60,11.20C23.78,13.25 23.12,15.60 21.90,17.40C20.68,19.20 19.10,20.85 17.30,22.00C15.50,23.15 13.17,24.28 11.10,24.30C9.03,24.32 6.95,22.10 4.90,22.10C2.85,22.10 0.90,24.23 -1.20,24.30C-3.30,24.37 -5.65,22.37 -7.70,22.50C-9.75,22.63 -11.73,24.72 -13.50,25.10C-15.27,25.48 -17.05,25.15 -18.30,24.80C-19.55,24.45 -19.98,23.62 -21.00,23.00C-22.02,22.38 -22.95,21.33 -24.40,21.10C-25.85,20.87 -28.02,21.68 -29.70,21.60C-31.38,21.52 -33.47,21.40 -34.50,20.60C-35.53,19.80 -35.75,18.23 -35.90,16.80C-36.05,15.37 -35.40,13.45 -35.40,12.00C-35.40,10.55 -35.25,9.07 -35.90,8.10C-36.55,7.13 -38.10,7.00 -39.30,6.20C-40.50,5.40 -42.22,4.42 -43.10,3.30C-43.98,2.18 -44.52,0.78 -44.60,-0.50C-44.68,-1.78 -44.08,-3.03 -43.60,-4.40C-43.12,-5.77 -42.18,-7.35 -41.70,-8.70C-41.22,-10.05 -40.62,-11.13 -40.70,-12.50C-40.78,-13.87 -41.83,-15.30 -42.20,-16.90C-42.57,-18.50 -43.30,-20.50 -42.90,-22.10C-42.50,-23.70 -41.20,-25.28 -39.80,-26.50C-38.40,-27.72 -36.35,-28.77 -34.50,-29.40C-32.65,-30.03 -30.55,-29.98 -28.70,-30.30C-26.85,-30.62 -24.83,-30.73 -23.40,-31.30C-21.97,-31.87 -20.98,-32.67 -20.10,-33.70C-19.22,-34.73 -18.92,-36.43 -18.10,-37.50C-17.28,-38.57 -16.48,-39.88 -15.20,-40.10Z" fill="#ced1e6"/>
<path d="M-38.77,-21.69 Q-35.08,-25.38 -24.92,-26.92" fill="none" stroke="#e6e8f3" stroke-width="1.7" stroke-linecap="round"/>
<path d="M-40.77,-0.46 Q-39.38,-3.85 -34.46,-7.23" fill="none" stroke="#e6e8f3" stroke-width="1.7" stroke-linecap="round"/>
<ellipse cx="-8.15" cy="-33.69" rx="1.45" ry="0.91" fill="#fff"/>
<ellipse cx="-15.85" cy="-34.15" rx="0.91" ry="0.91" fill="#fff"/>
<ellipse cx="-5.85" cy="-27.23" rx="3.99" ry="2.18" fill="#fff"/>
<ellipse cx="8.77" cy="-25.69" rx="2.18" ry="2.18" fill="#fff"/>
<ellipse cx="1.85" cy="-29.54" rx="1.09" ry="1.09" fill="#fff"/>
<ellipse cx="16.46" cy="-23.38" rx="1.63" ry="1.27" fill="#fff"/>
<ellipse cx="12.62" cy="-15.69" rx="3.63" ry="2.54" fill="#fff"/>
<ellipse cx="21.85" cy="-15.69" rx="1.82" ry="1.82" fill="#fff"/>
<ellipse cx="1.85" cy="-22.62" rx="1.45" ry="1.45" fill="#fff"/>
<ellipse cx="-8.15" cy="-22.62" rx="2.54" ry="1.82" fill="#fff"/>
<ellipse cx="-8.92" cy="-14.15" rx="3.99" ry="1.82" fill="#fff"/>
<ellipse cx="-16.62" cy="-21.08" rx="2.18" ry="1.45" fill="#fff"/>
<ellipse cx="-12.00" cy="-18.77" rx="1.09" ry="1.09" fill="#fff"/>
<ellipse cx="-22.00" cy="-17.23" rx="2.36" ry="1.82" fill="#fff"/>
<ellipse cx="-33.54" cy="-12.62" rx="2.90" ry="2.90" fill="#fff"/>
<ellipse cx="-27.38" cy="-8.00" rx="2.18" ry="1.82" fill="#fff"/>
<ellipse cx="-18.15" cy="-11.08" rx="2.54" ry="2.18" fill="#fff"/>
<ellipse cx="-17.38" cy="-4.92" rx="3.27" ry="2.18" fill="#fff"/>
<ellipse cx="-32.00" cy="-0.31" rx="2.18" ry="2.18" fill="#fff"/>
<ellipse cx="-25.08" cy="0.46" rx="1.45" ry="1.45" fill="#fff"/>
<ellipse cx="-20.46" cy="0.46" rx="1.82" ry="2.18" fill="#fff"/>
<ellipse cx="-15.85" cy="4.31" rx="1.82" ry="2.18" fill="#fff"/>
<ellipse cx="-20.46" cy="12.00" rx="2.18" ry="3.27" fill="#fff"/>
<ellipse cx="-12.00" cy="13.54" rx="2.18" ry="1.82" fill="#fff"/>
<ellipse cx="-16.62" cy="20.46" rx="1.45" ry="1.45" fill="#fff"/>
<ellipse cx="20.31" cy="2.77" rx="3.27" ry="3.27" fill="#fff"/>
<ellipse cx="16.46" cy="-8.00" rx="1.82" ry="1.82" fill="#fff"/>
<ellipse cx="13.38" cy="10.46" rx="2.18" ry="1.82" fill="#fff"/>
<ellipse cx="9.23" cy="20.77" rx="2.18" ry="1.63" fill="#fff"/>
<ellipse cx="0.31" cy="16.62" rx="1.27" ry="1.27" fill="#fff"/>
<ellipse cx="-35.08" cy="-18.77" rx="1.45" ry="1.45" fill="#fff"/>
<ellipse cx="-23.54" cy="-26.46" rx="1.45" ry="1.45" fill="#fff"/>
<ellipse cx="20.31" cy="12.00" rx="1.09" ry="1.09" fill="#fff"/>
<ellipse cx="21.85" cy="-9.54" rx="1.09" ry="1.09" fill="#fff"/>
<ellipse cx="-12.00" cy="-29.54" rx="0.91" ry="0.91" fill="#fff"/>
<ellipse cx="-25.85" cy="-21.08" rx="1.09" ry="1.09" fill="#fff"/>
<ellipse cx="-2.77" cy="-18.00" rx="1.27" ry="1.09" fill="#fff"/>
<ellipse cx="-28.31" cy="-18.77" rx="1.45" ry="1.27" fill="#fff"/>
<ellipse cx="-23.54" cy="-22.31" rx="1.09" ry="0.91" fill="#fff"/>
<ellipse cx="-23.08" cy="-5.54" rx="0.91" ry="0.91" fill="#fff"/>
<ellipse cx="-26.77" cy="1.08" rx="1.09" ry="1.09" fill="#fff"/>
<ellipse cx="-26.15" cy="6.15" rx="0.91" ry="0.91" fill="#fff"/>
<ellipse cx="-30.46" cy="6.62" rx="1.09" ry="1.09" fill="#fff"/>
<ellipse cx="-12.00" cy="20.46" rx="1.27" ry="1.09" fill="#fff"/>
<ellipse cx="-4.31" cy="21.23" rx="1.09" ry="0.91" fill="#fff"/>
<ellipse cx="17.23" cy="15.85" rx="1.27" ry="1.27" fill="#fff"/>
<ellipse cx="23.38" cy="-4.15" rx="1.09" ry="1.45" fill="#fff"/>
<ellipse cx="-18.15" cy="-25.69" rx="1.09" ry="0.91" fill="#fff"/>
<ellipse cx="-28.15" cy="13.54" rx="1.09" ry="0.91" fill="#fff"/>
<ellipse cx="14.15" cy="-28.77" rx="1.09" ry="0.91" fill="#fff"/>
<ellipse cx="-2.77" cy="-31.08" rx="1.09" ry="0.73" fill="#fff"/>
<circle cx="-19.69" cy="-30.31" r="1.04" fill="#2e4a80"/>
<circle cx="-12.46" cy="-29.54" r="0.83" fill="#2e4a80"/>
<circle cx="4.92" cy="-28.46" r="1.04" fill="#2e4a80"/>
<circle cx="1.08" cy="-22.92" r="0.62" fill="#2e4a80"/>
<circle cx="6.46" cy="-13.08" r="1.25" fill="#2e4a80"/>
<circle cx="-29.23" cy="-14.92" r="1.04" fill="#2e4a80"/>
<circle cx="-38.15" cy="-8.31" r="0.83" fill="#2e4a80"/>
<circle cx="-21.23" cy="5.38" r="1.25" fill="#2e4a80"/>
<circle cx="-25.85" cy="9.69" r="0.83" fill="#2e4a80"/>
<circle cx="-30.77" cy="10.46" r="0.83" fill="#2e4a80"/>
<circle cx="-39.69" cy="4.31" r="0.83" fill="#2e4a80"/>
<circle cx="-7.38" cy="18.62" r="0.83" fill="#2e4a80"/>
<circle cx="17.54" cy="9.23" r="0.83" fill="#2e4a80"/>
<circle cx="-17.38" cy="-17.69" r="0.62" fill="#2e4a80"/>
<circle cx="18.77" cy="-18.77" r="0.62" fill="#2e4a80"/>
<circle cx="-33.54" cy="-5.38" r="0.62" fill="#2e4a80"/>
<circle cx="0" cy="0" r="12.6" fill="#2e4a80"/>
<path d="M-8.2,-2.5 Q-6.5,-8 -1.5,-9.2" fill="none" stroke="#fff" stroke-opacity=".75" stroke-width="1" stroke-linecap="round"/>
</g>
<g transform="translate(417.9,864.3)">
<path d="M-15.20,-40.10C-13.92,-40.32 -12.22,-39.40 -10.40,-38.80C-8.58,-38.20 -6.35,-37.20 -4.30,-36.50C-2.25,-35.80 -0.15,-34.87 1.90,-34.60C3.95,-34.33 5.95,-35.23 8.00,-34.90C10.05,-34.57 12.40,-33.62 14.20,-32.60C16.00,-31.58 17.27,-30.47 18.80,-28.80C20.33,-27.13 21.87,-24.40 23.40,-22.60C24.93,-20.80 27.05,-19.67 28.00,-18.00C28.95,-16.33 29.30,-14.40 29.10,-12.60C28.90,-10.80 27.08,-9.12 26.80,-7.20C26.52,-5.28 27.40,-3.15 27.40,-1.10C27.40,0.95 27.27,3.05 26.80,5.10C26.33,7.15 25.42,9.15 24.60,11.20C23.78,13.25 23.12,15.60 21.90,17.40C20.68,19.20 19.10,20.85 17.30,22.00C15.50,23.15 13.17,24.28 11.10,24.30C9.03,24.32 6.95,22.10 4.90,22.10C2.85,22.10 0.90,24.23 -1.20,24.30C-3.30,24.37 -5.65,22.37 -7.70,22.50C-9.75,22.63 -11.73,24.72 -13.50,25.10C-15.27,25.48 -17.05,25.15 -18.30,24.80C-19.55,24.45 -19.98,23.62 -21.00,23.00C-22.02,22.38 -22.95,21.33 -24.40,21.10C-25.85,20.87 -28.02,21.68 -29.70,21.60C-31.38,21.52 -33.47,21.40 -34.50,20.60C-35.53,19.80 -35.75,18.23 -35.90,16.80C-36.05,15.37 -35.40,13.45 -35.40,12.00C-35.40,10.55 -35.25,9.07 -35.90,8.10C-36.55,7.13 -38.10,7.00 -39.30,6.20C-40.50,5.40 -42.22,4.42 -43.10,3.30C-43.98,2.18 -44.52,0.78 -44.60,-0.50C-44.68,-1.78 -44.08,-3.03 -43.60,-4.40C-43.12,-5.77 -42.18,-7.35 -41.70,-8.70C-41.22,-10.05 -40.62,-11.13 -40.70,-12.50C-40.78,-13.87 -41.83,-15.30 -42.20,-16.90C-42.57,-18.50 -43.30,-20.50 -42.90,-22.10C-42.50,-23.70 -41.20,-25.28 -39.80,-26.50C-38.40,-27.72 -36.35,-28.77 -34.50,-29.40C-32.65,-30.03 -30.55,-29.98 -28.70,-30.30C-26.85,-30.62 -24.83,-30.73 -23.40,-31.30C-21.97,-31.87 -20.98,-32.67 -20.10,-33.70C-19.22,-34.73 -18.92,-36.43 -18.10,-37.50C-17.28,-38.57 -16.48,-39.88 -15.20,-40.10Z" fill="#efd4cb"/>
<path d="M-38.77,-21.69 Q-35.08,-25.38 -24.92,-26.92" fill="none" stroke="#f7e8e3" stroke-width="1.7" stroke-linecap="round"/>
<path d="M-40.77,-0.46 Q-39.38,-3.85 -34.46,-7.23" fill="none" stroke="#f7e8e3" stroke-width="1.7" stroke-linecap="round"/>
<ellipse cx="-8.15" cy="-33.69" rx="1.45" ry="0.91" fill="#fff"/>
<ellipse cx="-15.85" cy="-34.15" rx="0.91" ry="0.91" fill="#fff"/>
<ellipse cx="-5.85" cy="-27.23" rx="3.99" ry="2.18" fill="#fff"/>
<ellipse cx="8.77" cy="-25.69" rx="2.18" ry="2.18" fill="#fff"/>
<ellipse cx="1.85" cy="-29.54" rx="1.09" ry="1.09" fill="#fff"/>
<ellipse cx="16.46" cy="-23.38" rx="1.63" ry="1.27" fill="#fff"/>
<ellipse cx="12.62" cy="-15.69" rx="3.63" ry="2.54" fill="#fff"/>
<ellipse cx="21.85" cy="-15.69" rx="1.82" ry="1.82" fill="#fff"/>
<ellipse cx="1.85" cy="-22.62" rx="1.45" ry="1.45" fill="#fff"/>
<ellipse cx="-8.15" cy="-22.62" rx="2.54" ry="1.82" fill="#fff"/>
<ellipse cx="-8.92" cy="-14.15" rx="3.99" ry="1.82" fill="#fff"/>
<ellipse cx="-16.62" cy="-21.08" rx="2.18" ry="1.45" fill="#fff"/>
<ellipse cx="-12.00" cy="-18.77" rx="1.09" ry="1.09" fill="#fff"/>
<ellipse cx="-22.00" cy="-17.23" rx="2.36" ry="1.82" fill="#fff"/>
<ellipse cx="-33.54" cy="-12.62" rx="2.90" ry="2.90" fill="#fff"/>
<ellipse cx="-27.38" cy="-8.00" rx="2.18" ry="1.82" fill="#fff"/>
<ellipse cx="-18.15" cy="-11.08" rx="2.54" ry="2.18" fill="#fff"/>
<ellipse cx="-17.38" cy="-4.92" rx="3.27" ry="2.18" fill="#fff"/>
<ellipse cx="-32.00" cy="-0.31" rx="2.18" ry="2.18" fill="#fff"/>
<ellipse cx="-25.08" cy="0.46" rx="1.45" ry="1.45" fill="#fff"/>
<ellipse cx="-20.46" cy="0.46" rx="1.82" ry="2.18" fill="#fff"/>
<ellipse cx="-15.85" cy="4.31" rx="1.82" ry="2.18" fill="#fff"/>
<ellipse cx="-20.46" cy="12.00" rx="2.18" ry="3.27" fill="#fff"/>
<ellipse cx="-12.00" cy="13.54" rx="2.18" ry="1.82" fill="#fff"/>
<ellipse cx="-16.62" cy="20.46" rx="1.45" ry="1.45" fill="#fff"/>
<ellipse cx="20.31" cy="2.77" rx="3.27" ry="3.27" fill="#fff"/>
<ellipse cx="16.46" cy="-8.00" rx="1.82" ry="1.82" fill="#fff"/>
<ellipse cx="13.38" cy="10.46" rx="2.18" ry="1.82" fill="#fff"/>
<ellipse cx="9.23" cy="20.77" rx="2.18" ry="1.63" fill="#fff"/>
<ellipse cx="0.31" cy="16.62" rx="1.27" ry="1.27" fill="#fff"/>
<ellipse cx="-35.08" cy="-18.77" rx="1.45" ry="1.45" fill="#fff"/>
<ellipse cx="-23.54" cy="-26.46" rx="1.45" ry="1.45" fill="#fff"/>
<ellipse cx="20.31" cy="12.00" rx="1.09" ry="1.09" fill="#fff"/>
<ellipse cx="21.85" cy="-9.54" rx="1.09" ry="1.09" fill="#fff"/>
<ellipse cx="-12.00" cy="-29.54" rx="0.91" ry="0.91" fill="#fff"/>
<ellipse cx="-25.85" cy="-21.08" rx="1.09" ry="1.09" fill="#fff"/>
<ellipse cx="-2.77" cy="-18.00" rx="1.27" ry="1.09" fill="#fff"/>
<ellipse cx="-28.31" cy="-18.77" rx="1.45" ry="1.27" fill="#fff"/>
<ellipse cx="-23.54" cy="-22.31" rx="1.09" ry="0.91" fill="#fff"/>
<ellipse cx="-23.08" cy="-5.54" rx="0.91" ry="0.91" fill="#fff"/>
<ellipse cx="-26.77" cy="1.08" rx="1.09" ry="1.09" fill="#fff"/>
<ellipse cx="-26.15" cy="6.15" rx="0.91" ry="0.91" fill="#fff"/>
<ellipse cx="-30.46" cy="6.62" rx="1.09" ry="1.09" fill="#fff"/>
<ellipse cx="-12.00" cy="20.46" rx="1.27" ry="1.09" fill="#fff"/>
<ellipse cx="-4.31" cy="21.23" rx="1.09" ry="0.91" fill="#fff"/>
<ellipse cx="17.23" cy="15.85" rx="1.27" ry="1.27" fill="#fff"/>
<ellipse cx="23.38" cy="-4.15" rx="1.09" ry="1.45" fill="#fff"/>
<ellipse cx="-18.15" cy="-25.69" rx="1.09" ry="0.91" fill="#fff"/>
<ellipse cx="-28.15" cy="13.54" rx="1.09" ry="0.91" fill="#fff"/>
<ellipse cx="14.15" cy="-28.77" rx="1.09" ry="0.91" fill="#fff"/>
<ellipse cx="-2.77" cy="-31.08" rx="1.09" ry="0.73" fill="#fff"/>
<circle cx="-19.69" cy="-30.31" r="1.04" fill="#a8082e"/>
<circle cx="-12.46" cy="-29.54" r="0.83" fill="#a8082e"/>
<circle cx="4.92" cy="-28.46" r="1.04" fill="#a8082e"/>
<circle cx="1.08" cy="-22.92" r="0.62" fill="#a8082e"/>
<circle cx="6.46" cy="-13.08" r="1.25" fill="#a8082e"/>
<circle cx="-29.23" cy="-14.92" r="1.04" fill="#a8082e"/>
<circle cx="-38.15" cy="-8.31" r="0.83" fill="#a8082e"/>
<circle cx="-21.23" cy="5.38" r="1.25" fill="#a8082e"/>
<circle cx="-25.85" cy="9.69" r="0.83" fill="#a8082e"/>
<circle cx="-30.77" cy="10.46" r="0.83" fill="#a8082e"/>
<circle cx="-39.69" cy="4.31" r="0.83" fill="#a8082e"/>
<circle cx="-7.38" cy="18.62" r="0.83" fill="#a8082e"/>
<circle cx="17.54" cy="9.23" r="0.83" fill="#a8082e"/>
<circle cx="-17.38" cy="-17.69" r="0.62" fill="#a8082e"/>
<circle cx="18.77" cy="-18.77" r="0.62" fill="#a8082e"/>
<circle cx="-33.54" cy="-5.38" r="0.62" fill="#a8082e"/>
<circle cx="0" cy="0" r="12.6" fill="#a8082e"/>
<path d="M-8.2,-2.5 Q-6.5,-8 -1.5,-9.2" fill="none" stroke="#fff" stroke-opacity=".75" stroke-width="1" stroke-linecap="round"/>
</g>
<line x1="355.60" y1="702.60" x2="355.60" y2="744.48" stroke="#a5062c" stroke-width="1.9"/>
<polygon points="355.60,753.70 349.70,740.90 355.60,744.48 361.50,740.90" fill="#a5062c"/>
<line x1="314.70" y1="785.60" x2="293.20" y2="816.79" stroke="#b7b9be" stroke-width="1.6"/>
<polygon points="288.30,823.90 290.50,810.84 293.20,816.79 299.72,817.20" fill="#b7b9be"/>
<line x1="396.30" y1="784.00" x2="417.41" y2="814.98" stroke="#a5062c" stroke-width="1.9"/>
<polygon points="422.60,822.60 410.52,815.34 417.41,814.98 420.27,808.70" fill="#a5062c"/>
<line x1="472.50" y1="811.70" x2="472.50" y2="834.50" stroke="#a5062c" stroke-width="1.5"/>
<line x1="466.20" y1="834.50" x2="478.30" y2="834.50" stroke="#a5062c" stroke-width="1.5"/>
<line x1="472.50" y1="858.30" x2="472.50" y2="872.76" stroke="#a5062c" stroke-width="2.2"/>
<polygon points="472.50,881.40 466.90,869.40 472.50,872.76 478.10,869.40" fill="#a5062c"/>
<text x="397.5" y="658.2" font-size="12.5" fill="#111" textLength="32.5" lengthAdjust="spacingAndGlyphs">Naïve</text>
<text x="397.5" y="673.8" font-size="12.5" fill="#111" textLength="40.5" lengthAdjust="spacingAndGlyphs">BMDM</text>
<text x="370.1" y="732.2" font-size="12.5" fill="#a5062c" textLength="34.4" lengthAdjust="spacingAndGlyphs">Heme</text>
<text x="447.3" y="783.9" font-size="12.5" fill="#111" text-anchor="middle" textLength="79.3" lengthAdjust="spacingAndGlyphs">Heme-loaded</text>
<text x="447.5" y="799.3" font-size="12.5" fill="#111" text-anchor="middle">M<tspan font-family="'Liberation Serif',serif" font-size="13">Φ</tspan></text>
<text x="472.3" y="851.2" font-size="12.5" fill="#a5062c" text-anchor="middle" textLength="34.5" lengthAdjust="spacingAndGlyphs">G6PD</text>
<text x="472.5" y="896.9" font-size="12.5" fill="#111" text-anchor="middle" textLength="31" lengthAdjust="spacingAndGlyphs">Block</text>
<text x="471.8" y="912" font-size="12.5" fill="#111" text-anchor="middle" textLength="72.6" lengthAdjust="spacingAndGlyphs">Degradation</text>
</g>
<rect x="0.9" y="0.9" width="518.2" height="925.2" fill="none" stroke="#000" stroke-width="1.8"/>
</svg>
</body></html>
